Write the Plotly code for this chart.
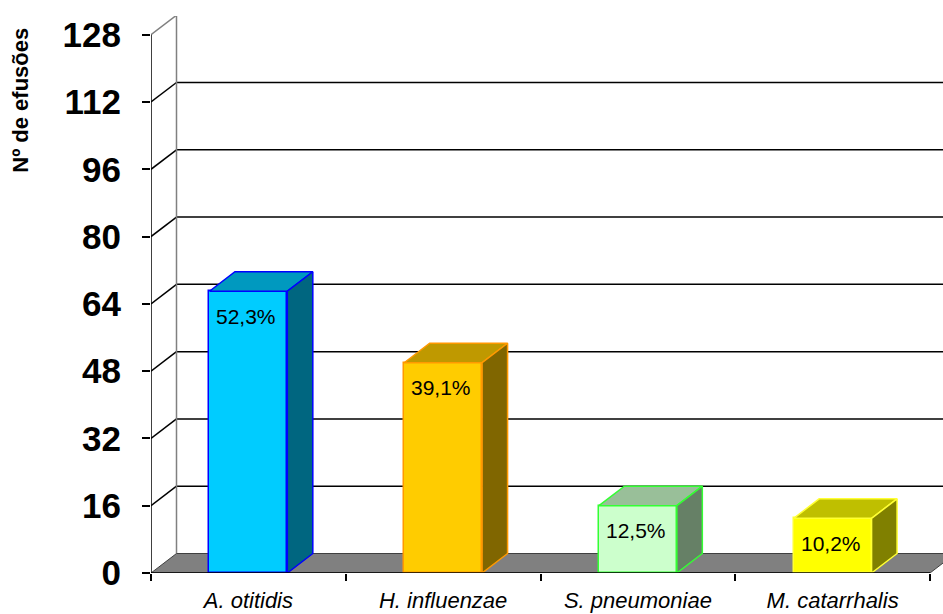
import plotly.graph_objects as go

categories = ["A. otitidis", "H. influenzae", "S. pneumoniae", "M. catarrhalis"]
values = [67, 50, 16, 13]
labels = ["52,3%", "39,1%", "12,5%", "10,2%"]
front_colors = ["#00CCFF", "#FFCC00", "#CCFFCC", "#FFFF00"]
top_colors = ["#0099BF", "#BF9900", "#99BF99", "#BFBF00"]
side_colors = ["#006680", "#806600", "#668066", "#808000"]
edge_colors = ["#0000FF", "#FF9900", "#33FF33", "#FFFF33"]
y_ticks = [0, 16, 32, 48, 64, 80, 96, 112, 128]

W, H = 943, 614
ML, MR, MT, MB = 151, 0, 16, 41
cat_px = 194.75
px_per_unit = 538.3 / 128
x0 = -0.5
x1 = x0 + (W - ML - MR) / cat_px
y1 = (H - MT - MB) / px_per_unit
DX = 25.5 / cat_px
DY = 19.5 / px_per_unit
BW = 0.40
n = len(categories)
xs = list(range(n))
FONT = "Liberation Sans, Arial"

fig = go.Figure()

# front faces
fig.add_trace(go.Bar(
    x=xs, y=values, width=BW,
    marker=dict(color=front_colors, line=dict(color=edge_colors, width=1.5)),
    hoverinfo="skip", showlegend=False,
))

# top and side faces
for i, v in enumerate(values):
    l, r = i - BW / 2, i + BW / 2
    fig.add_trace(go.Scatter(
        x=[l, l + DX, r + DX, r, l], y=[v, v + DY, v + DY, v, v],
        fill="toself", fillcolor=top_colors[i], mode="lines",
        line=dict(color=edge_colors[i], width=1.5),
        hoverinfo="skip", showlegend=False,
    ))
    fig.add_trace(go.Scatter(
        x=[r, r + DX, r + DX, r, r], y=[0, DY, v + DY, v, 0],
        fill="toself", fillcolor=side_colors[i], mode="lines",
        line=dict(color=edge_colors[i], width=1.5),
        hoverinfo="skip", showlegend=False,
    ))

shapes = []
# back wall gridlines and left-wall diagonals
for t in y_ticks[1:]:
    col = "#808080" if t == y_ticks[-1] else "black"
    shapes.append(dict(type="line", xref="x", yref="y", layer="below",
                       x0=x0 + DX, y0=t + DY, x1=n - 0.5 + DX, y1=t + DY,
                       line=dict(color=col, width=1.5)))
    shapes.append(dict(type="line", xref="x", yref="y", layer="below",
                       x0=x0, y0=t, x1=x0 + DX, y1=t + DY,
                       line=dict(color=col, width=1.5)))
# back wall left edge
shapes.append(dict(type="line", xref="x", yref="y", layer="below",
                   x0=x0 + DX, y0=DY, x1=x0 + DX, y1=y_ticks[-1] + DY,
                   line=dict(color="#808080", width=1.5)))
# floor
shapes.append(dict(type="path", xref="x", yref="y", layer="below",
                   path=f"M {x0},0 L {x0 + DX},{DY} L {n - 0.5 + DX},{DY} L {n - 0.5},0 Z",
                   fillcolor="#808080", line=dict(color="#404040", width=1)))
# axis lines
shapes.append(dict(type="line", xref="x", yref="y", layer="above",
                   x0=x0, y0=0, x1=x0, y1=y_ticks[-1],
                   line=dict(color="black", width=1.5)))
shapes.append(dict(type="line", xref="x", yref="y", layer="above",
                   x0=x0, y0=0, x1=n - 0.5, y1=0,
                   line=dict(color="black", width=1.5)))

annotations = []
for i, v in enumerate(values):
    annotations.append(dict(x=i - 0.01, y=v, xref="x", yref="y", text=labels[i],
                            showarrow=False, yshift=-25, yanchor="middle",
                            font=dict(family=FONT, size=21, color="black")))
annotations.append(dict(text="<b>Nº de efusões</b>", textangle=-90, showarrow=False,
                        xref="paper", yref="paper",
                        x=(21 - ML) / (W - ML - MR), y=(573.3 - 101) / (H - MT - MB),
                        xanchor="center", yanchor="middle",
                        font=dict(family=FONT, size=22, color="black")))

fig.update_layout(
    width=W, height=H,
    margin=dict(l=ML, r=MR, t=MT, b=MB, pad=0),
    paper_bgcolor="white", plot_bgcolor="white",
    shapes=shapes, annotations=annotations,
    bargap=0,
    xaxis=dict(range=[x0, x1], tickvals=xs,
               ticktext=[f"<i>{c}</i>" for c in categories],
               ticks="", showgrid=False, zeroline=False, showline=False,
               tickfont=dict(family=FONT, size=22, color="black"),
               ticklabelstandoff=12,
               minor=dict(tickvals=[k - 0.5 for k in range(n + 1)], ticks="outside",
                          ticklen=7, tickwidth=1.5, tickcolor="black", showgrid=False)),
    yaxis=dict(range=[0, y1], tickvals=y_ticks, ticks="outside", ticklen=8,
               tickwidth=1.5, tickcolor="black", showgrid=False, zeroline=False,
               showline=False, ticklabelstandoff=14,
               tickfont=dict(family=FONT, size=35, color="black", weight="bold")),
    font=dict(family=FONT),
)

fig.write_html("out.html")
